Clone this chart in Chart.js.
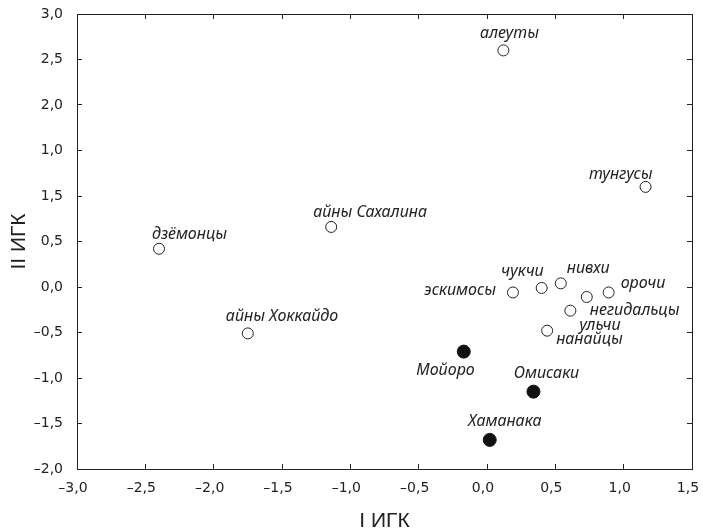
<!DOCTYPE html>
<html>
<head>
<meta charset="utf-8">
<script src="https://cdn.jsdelivr.net/npm/chart.js@4/dist/chart.umd.min.js"></script>
<style>
  body { margin: 0; background: #fff; }
  #wrap { width: 703px; height: 532px; }
</style>
</head>
<body>
<div id="wrap"><canvas id="pcaChart" width="703" height="532"></canvas></div>
<script>
// Современные популяции (светлые кружки)
const popNames = ['алеуты', 'тунгусы', 'дзёмонцы', 'айны Сахалина', 'айны Хоккайдо',
    'эскимосы', 'чукчи', 'нивхи', 'орочи', 'негидальцы', 'ульчи', 'нанайцы'];
const popX = [0.12, 1.16, -2.40, -1.14, -1.75, 0.19, 0.40, 0.54, 0.89, 0.73, 0.61, 0.44];
const popY = [2.60, 1.10, 0.42, 0.66, -0.51, -0.06, -0.01, 0.04, -0.06, -0.11, -0.26, -0.48];

// Древние серии (чёрные кружки)
const siteNames = ['Мойоро', 'Омисаки', 'Хаманака'];
const siteX = [-0.17, 0.34, 0.02];
const siteY = [-0.71, -1.15, -1.68];

// Подписи делений (как в оригинале)
const xTickLabels = ['–3,0', '–2,5', '–2,0', '–1,5', '–1,0', '–0,5', '0,0', '0,5', '1,0', '1,5'];
const yTickLabels = ['–2,0', '–1,5', '–1,0', '–0,5', '0,0', '0,5', '1,5', '1,0', '2,0', '2,5', '3,0'];

// Положение подписей относительно точки: [dx, dy, выравнивание]
const labelPlacement = {
    'алеуты': [6, -17, 'center'],
    'тунгусы': [7, -12, 'right'],
    'дзёмонцы': [-7, -14, 'left'],
    'айны Сахалина': [-18, -15, 'left'],
    'айны Хоккайдо': [-22, -17, 'left'],
    'эскимосы': [-17, -2, 'right'],
    'чукчи': [2, -16, 'right'],
    'нивхи': [6, -15, 'left'],
    'орочи': [12, -9, 'left'],
    'негидальцы': [3, 13, 'left'],
    'ульчи': [9, 15, 'left'],
    'нанайцы': [9, 9, 'left'],
    'Мойоро': [11, 19, 'right'],
    'Омисаки': [13, -18, 'center'],
    'Хаманака': [15, -18, 'center']
};

const toPoints = (xs, ys) => xs.map((x, i) => ({ x: x, y: ys[i] }));
const ink = '#222';
const tickFont = { family: 'DejaVu Sans', size: 14 };

// Плагин для подписей точек
const pointLabels = {
    id: 'pointLabels',
    afterDatasetsDraw(chart) {
        const ctx = chart.ctx;
        ctx.save();
        ctx.font = 'italic 16px "Noto Sans"';
        ctx.fillStyle = ink;
        ctx.textBaseline = 'middle';
        chart.data.datasets.forEach((ds, di) => {
            const meta = chart.getDatasetMeta(di);
            meta.data.forEach((pt, i) => {
                const name = ds.names[i];
                const p = labelPlacement[name] || [0, -14, 'center'];
                ctx.textAlign = p[2];
                ctx.fillText(name, pt.x + p[0], pt.y + p[1]);
            });
        });
        ctx.restore();
    }
};

// убираем автоматические отступы под крайние подписи
const noPad = s => { s.paddingLeft = 0; s.paddingRight = 0; s.paddingTop = 0; s.paddingBottom = 0; };

const frameAxis = (position, min, max) => ({
    type: 'linear',
    position: position,
    min: min,
    max: max,
    ticks: { display: false, stepSize: 0.5 },
    grid: { drawOnChartArea: false, tickLength: -5, color: ink },
    border: { color: ink, width: 1 },
    afterFit: s => {
        if (position === 'top') s.height = 0; else s.width = 0;
        noPad(s);
    }
});

new Chart(document.getElementById('pcaChart'), {
    type: 'scatter',
    data: {
        datasets: [{
            label: 'популяции',
            names: popNames,
            data: toPoints(popX, popY),
            backgroundColor: '#fff',
            borderColor: ink,
            borderWidth: 1,
            pointRadius: 5.5
        }, {
            label: 'серии',
            names: siteNames,
            data: toPoints(siteX, siteY),
            backgroundColor: '#111',
            borderColor: '#111',
            borderWidth: 1,
            pointRadius: 6.5
        }]
    },
    options: {
        responsive: false,
        animation: false,
        layout: { padding: { left: 0, top: 14, right: 11, bottom: 0 } },
        plugins: {
            legend: { display: false },
            tooltip: { enabled: false }
        },
        scales: {
            x: {
                type: 'linear',
                position: 'bottom',
                min: -3,
                max: 1.5,
                ticks: {
                    stepSize: 0.5,
                    autoSkip: false,
                    maxRotation: 0,
                    padding: 16,
                    labelOffset: -4,
                    color: ink,
                    font: tickFont,
                    callback: (v, i) => xTickLabels[i]
                },
                grid: { drawOnChartArea: false, tickLength: -5, color: ink },
                border: { color: ink, width: 1 },
                title: {
                    display: true,
                    text: 'I ИГК',
                    color: ink,
                    font: { family: 'Liberation Sans', size: 21, lineHeight: 1 },
                    padding: { top: 0, bottom: 0 }
                },
                afterFit: s => { s.height = 63; noPad(s); }
            },
            y: {
                type: 'linear',
                position: 'left',
                min: -2,
                max: 3,
                ticks: {
                    stepSize: 0.5,
                    autoSkip: false,
                    padding: 19,
                    color: ink,
                    font: tickFont,
                    callback: (v, i) => yTickLabels[i]
                },
                grid: { drawOnChartArea: false, tickLength: -5, color: ink },
                border: { color: ink, width: 1 },
                title: {
                    display: true,
                    text: 'II ИГК',
                    color: ink,
                    font: { family: 'Liberation Sans', size: 21, lineHeight: 1.2 },
                    padding: { top: 7, bottom: 0 }
                },
                afterFit: s => { s.width = 77; noPad(s); }
            },
            x2: frameAxis('top', -3, 1.5),
            y2: frameAxis('right', -2, 3)
        }
    },
    plugins: [pointLabels]
});
</script>
</body>
</html>
